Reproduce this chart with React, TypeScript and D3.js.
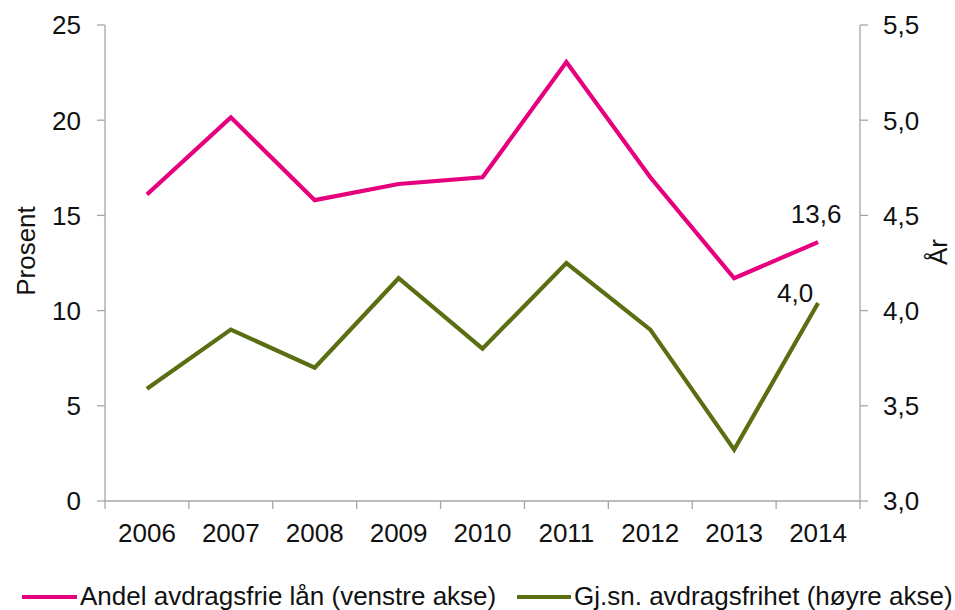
import React from "react";
import * as d3 from "d3";

const years = ["2006", "2007", "2008", "2009", "2010", "2011", "2012", "2013", "2014"];
const andelAvdragsfrie = [16.1, 20.15, 15.8, 16.65, 17.0, 23.05, 17.0, 11.7, 13.6];
const gjsnAvdragsfrihet = [3.59, 3.9, 3.7, 4.17, 3.8, 4.25, 3.9, 3.27, 4.04];
const leftTicks = [0, 5, 10, 15, 20, 25];
const rightTicks = [3.0, 3.5, 4.0, 4.5, 5.0, 5.5];
const seriesNames = ["Andel avdragsfrie lån (venstre akse)", "Gj.sn. avdragsfrihet (høyre akse)"];
const lastLabels = ["13,6", "4,0"];

const W = 955;
const H = 610;
const PINK = "#e6007e";
const GREEN = "#5a6e12";
const AXIS = "#a6a6a6";
const FONT = "'Liberation Sans', Arial, sans-serif";
const FS = 26;

export default function App() {
  const x = d3.scaleBand<string>().domain(years).range([105, 860]);
  const yL = d3.scaleLinear().domain([0, 25]).range([501, 25]);
  const yR = d3.scaleLinear().domain([3, 5.5]).range([501, 25]);
  const cx = (d: string) => (x(d) ?? 0) + x.bandwidth() / 2;

  const lineL = d3
    .line<number>()
    .x((_, i) => cx(years[i]))
    .y((d) => yL(d));
  const lineR = d3
    .line<number>()
    .x((_, i) => cx(years[i]))
    .y((d) => yR(d));

  const boundaries = [...years.map((d) => x(d) ?? 0), x.range()[1]];
  const fmt = (v: number) => v.toFixed(1).replace(".", ",");
  const last = years.length - 1;

  return (
    <svg
      width={W}
      height={H}
      style={{ position: "absolute", left: 0, top: 0, background: "#fff" }}
      fontFamily={FONT}
    >
      <rect x={0} y={0} width={W} height={H} fill="#fff" />
      {/* left axis */}
      <line x1={105} x2={105} y1={yL(25)} y2={yL(0)} stroke={AXIS} strokeWidth={1.3} />
      {leftTicks.map((t) => (
        <g key={"l" + t}>
          <line x1={97} x2={105} y1={yL(t)} y2={yL(t)} stroke={AXIS} strokeWidth={1.3} />
          <text x={81} y={yL(t)} dy="0.36em" textAnchor="end" fontSize={FS} fill="#111">
            {t}
          </text>
        </g>
      ))}
      {/* right axis */}
      <line x1={860} x2={860} y1={yR(5.5)} y2={yR(3)} stroke={AXIS} strokeWidth={1.3} />
      {rightTicks.map((t) => (
        <g key={"r" + t}>
          <line x1={860} x2={868} y1={yR(t)} y2={yR(t)} stroke={AXIS} strokeWidth={1.3} />
          <text x={883} y={yR(t)} dy="0.36em" textAnchor="start" fontSize={FS} fill="#111">
            {fmt(t)}
          </text>
        </g>
      ))}
      {/* bottom axis */}
      <line x1={105} x2={860} y1={501} y2={501} stroke={AXIS} strokeWidth={1.3} />
      {boundaries.map((b, i) => (
        <line key={"b" + i} x1={b} x2={b} y1={501} y2={509} stroke={AXIS} strokeWidth={1.3} />
      ))}
      {years.map((yr) => (
        <text key={yr} x={cx(yr)} y={542} textAnchor="middle" fontSize={FS} fill="#111">
          {yr}
        </text>
      ))}
      {/* axis titles */}
      <text transform={`translate(35,251) rotate(-90)`} textAnchor="middle" fontSize={FS} fill="#111">
        Prosent
      </text>
      <text transform={`translate(947,252) rotate(-90)`} textAnchor="middle" fontSize={FS} fill="#111">
        År
      </text>
      {/* lines */}
      <path d={lineL(andelAvdragsfrie) ?? ""} fill="none" stroke={PINK} strokeWidth={4.2} strokeLinejoin="miter" />
      <path d={lineR(gjsnAvdragsfrihet) ?? ""} fill="none" stroke={GREEN} strokeWidth={4.2} strokeLinejoin="miter" />
      {/* data labels */}
      <text x={cx(years[last]) - 2} y={yL(andelAvdragsfrie[last]) - 19} textAnchor="middle" fontSize={FS} fill="#111">
        {lastLabels[0]}
      </text>
      <text x={cx(years[last]) - 23} y={yR(gjsnAvdragsfrihet[last]) - 1} textAnchor="middle" fontSize={FS} fill="#111">
        {lastLabels[1]}
      </text>
      {/* legend */}
      <line x1={22} x2={77} y1={597} y2={597} stroke={PINK} strokeWidth={4.2} />
      <text x={80} y={605} fontSize={FS} fill="#111">
        {seriesNames[0]}
      </text>
      <line x1={517} x2={571} y1={597} y2={597} stroke={GREEN} strokeWidth={4.2} />
      <text x={574} y={605} fontSize={FS} fill="#111">
        {seriesNames[1]}
      </text>
    </svg>
  );
}
